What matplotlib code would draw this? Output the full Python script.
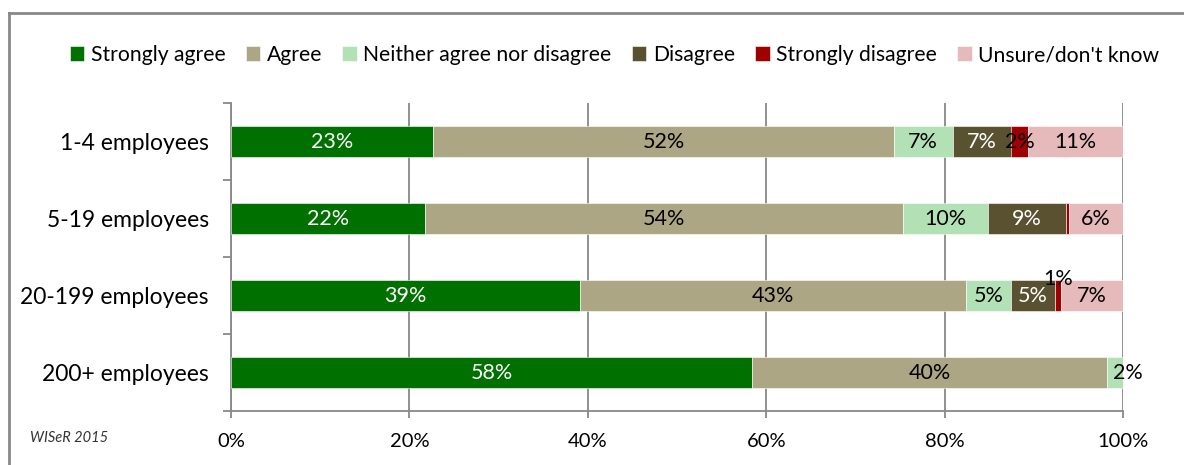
import numpy as np
import matplotlib.pyplot as plt
from matplotlib.lines import Line2D

plt.rcParams['font.family'] = ['Lato', 'DejaVu Sans']

categories = ['1-4 employees', '5-19 employees', '20-199 employees', '200+ employees']
series = ['Strongly agree', 'Agree', 'Neither agree nor disagree', 'Disagree',
          'Strongly disagree', "Unsure/don't know"]
colors = ['#007000', '#aca684', '#b3e1b6', '#5a5131', '#a00000', '#e6babb']
text_colors = ['white', 'black', 'black', 'white', 'black', 'black']

strongly_agree = [22.7, 21.7, 39.1, 58.4]
agree = [51.6, 53.6, 43.3, 39.8]
neither = [6.6, 9.6, 5.0, 1.8]
disagree = [6.6, 8.7, 5.0, 0.0]
strongly_disagree = [1.9, 0.4, 0.6, 0.0]
unsure = [10.6, 6.0, 7.0, 0.0]
values = [strongly_agree, agree, neither, disagree, strongly_disagree, unsure]

# label nudges in points for the few labels that don't sit in the middle
nudges = {(2, 4): (0, 12), (3, 2): (9, 0)}

fig = plt.figure(figsize=(11.84, 4.65), dpi=100)
ax = fig.add_axes([231 / 1184, 1 - 411 / 465, 892 / 1184, 308 / 465])

y = np.arange(len(categories))
left = np.zeros(len(categories))
for i, (name, vals) in enumerate(zip(series, values)):
    vals = np.array(vals)
    ax.barh(y, vals / 100, left=left / 100, height=0.4, color=colors[i], label=name,
            edgecolor='white', linewidth=0.4, zorder=3)
    for j, v in enumerate(vals):
        if round(v) < 1:
            continue
        dx, dy = nudges.get((j, i), (0, 0))
        ax.annotate(f'{v:.0f}%', ((left[j] + v / 2) / 100, y[j]), xytext=(dx, dy),
                    textcoords='offset points', ha='center', va='center',
                    color=text_colors[i], fontsize=15.5, zorder=4)
    left += vals

ax.set_xlim(0, 1)
ax.set_ylim(len(categories) - 0.5, -0.5)
ax.set_xticks(np.arange(0, 1.01, 0.2))
ax.set_xticklabels([f'{int(t * 100)}%' for t in np.arange(0, 1.01, 0.2)])
ax.set_yticks(y)
ax.set_yticklabels(categories)
ax.set_yticks(np.arange(-0.5, len(categories)), minor=True)
ax.tick_params(axis='y', which='major', length=0, pad=16, labelsize=16.5)
ax.tick_params(axis='y', which='minor', length=6, width=1.3, color='#888888')
ax.tick_params(axis='x', length=5, width=1.3, color='#888888', pad=11, labelsize=14.5)
ax.grid(axis='x', color='#888888', linewidth=1.3, zorder=0)
for s in ['top', 'right']:
    ax.spines[s].set_visible(False)
for s in ['left', 'bottom']:
    ax.spines[s].set_color('#888888')
    ax.spines[s].set_linewidth(1.3)

fig.legend(loc='center', bbox_to_anchor=(0.519, 1 - 55 / 465), ncol=6, frameon=False,
           fontsize=15.2, handlelength=0.7, handleheight=0.7, handletextpad=0.3,
           columnspacing=0.95, borderaxespad=0)

fig.text(30 / 1184, 1 - 438 / 465, 'WISeR 2015', fontsize=10.5, style='italic',
         color='#333333', va='center')

# outer chart border (only top and left visible in this crop)
fig.add_artist(Line2D([9 / 1184, 1], [1 - 13 / 465] * 2, color='#888888', lw=2))
fig.add_artist(Line2D([9 / 1184] * 2, [0, 1 - 13 / 465], color='#888888', lw=2))

fig.savefig('out.png', dpi=100)
